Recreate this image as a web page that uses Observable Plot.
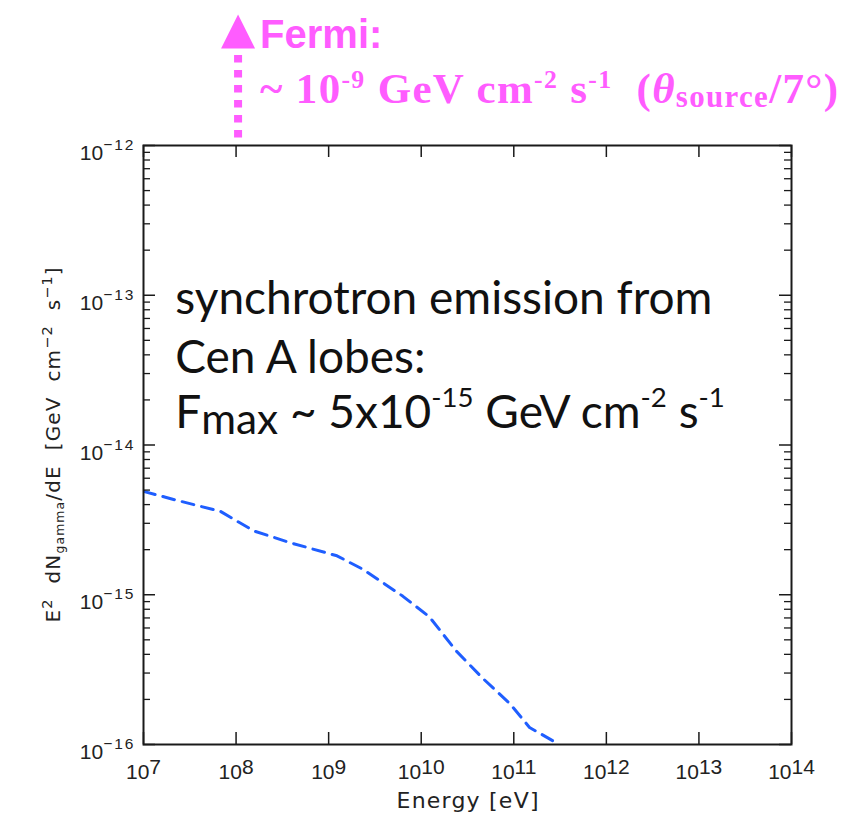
<!DOCTYPE html>
<html>
<head>
<meta charset="utf-8">
<script src="https://cdn.jsdelivr.net/npm/d3@7"></script>
<script src="https://cdn.jsdelivr.net/npm/@observablehq/plot@0.6"></script>
<style>
  body { margin: 0; background: #fff; }
  svg text { white-space: pre; }
</style>
</head>
<body>
<div id="chart"></div>
<script>
// ---- data ----
const energy = [1e7, 2.2e7, 6.8e7, 1.55e8, 3.8e8, 1.23e9, 2.34e9, 6.3e9, 1.23e10, 2.4e10, 4.7e10, 9.1e10, 1.48e11, 3.1e11];
const flux   = [4.9e-15, 4.3e-15, 3.6e-15, 2.67e-15, 2.23e-15, 1.82e-15, 1.48e-15, 9.8e-16, 7.1e-16, 4.2e-16, 2.74e-16, 1.87e-16, 1.3e-16, 1.0e-16];

const xMajorTicks = [1e7, 1e8, 1e9, 1e10, 1e11, 1e12, 1e13, 1e14];
const xTickLabels = ["10^{7}", "10^{8}", "10^{9}", "10^{10}", "10^{11}", "10^{12}", "10^{13}", "10^{14}"];
const yMajorTicks = [1e-16, 1e-15, 1e-14, 1e-13, 1e-12];
const yTickLabels = ["10^{\u221216}", "10^{\u221215}", "10^{\u221214}", "10^{\u221213}", "10^{\u221212}"];
const yMinorTicks = [-16, -15, -14, -13].flatMap(e => [2, 3, 4, 5, 6, 7, 8, 9].map(k => k * Math.pow(10, e)));

const xTitle = "Energy [eV]";
const yTitle = "E^{2}  dN_{gamma}/dE  [GeV  cm^{\u22122}  s^{\u22121}]";

const fermiEnergy = [1e8];
const fermiLine1 = "Fermi:";
const fermiLine2 = "~ 10^{-9} GeV cm^{-2} s^{-1}  (*{θ}_{source}/7°)";

const noteEnergy = 2.2e7;
const noteLines = ["synchrotron emission from", "Cen A lobes:", "F_{max} ~ 5x10^{-15} GeV cm^{-2} s^{-1}"];
const noteFlux  = [7.47e-14, 3.02e-14, 1.30e-14];

const data = energy.map((e, i) => ({energy: e, flux: flux[i]}));

// ---- layout ----
const W = 863, H = 814;
const mTop = 145, mBottom = 70, mLeft = 143, mRight = 72;
const fw = W - mLeft - mRight, fh = H - mTop - mBottom;
const magenta = "#ff5cff";
const blue = "#1f5eff";
const axisColor = "#1a1a1a";

// custom arrowhead symbol (tip up, anchor at base)
const arrowHead = {
  draw(ctx, size) {
    const r = Math.sqrt(size / Math.PI);
    ctx.moveTo(0, -2 * r);
    ctx.lineTo(r, 0);
    ctx.lineTo(-r, 0);
    ctx.closePath();
  }
};

const plot = Plot.plot({
  width: W, height: H,
  marginTop: mTop, marginBottom: mBottom, marginLeft: mLeft, marginRight: mRight,
  x: {type: "log", domain: [1e7, 1e14], axis: null},
  y: {type: "log", domain: [1e-16, 1e-12], axis: null},
  style: {background: "#fff"},
  marks: [
    Plot.line(data, {x: "energy", y: "flux", stroke: blue, strokeWidth: 3, strokeDasharray: "12,8", clip: true}),
    Plot.frame({stroke: axisColor, strokeWidth: 2}),
    // inward ticks, all four sides
    Plot.ruleX(xMajorTicks, {x: d => d, stroke: axisColor, strokeWidth: 1.5, insetTop: fh - 12}),
    Plot.ruleX(xMajorTicks, {x: d => d, stroke: axisColor, strokeWidth: 1.5, insetBottom: fh - 12}),
    Plot.ruleY(yMajorTicks, {y: d => d, stroke: axisColor, strokeWidth: 1.5, insetRight: fw - 12}),
    Plot.ruleY(yMajorTicks, {y: d => d, stroke: axisColor, strokeWidth: 1.5, insetLeft: fw - 12}),
    Plot.ruleY(yMinorTicks, {y: d => d, stroke: axisColor, strokeWidth: 1.3, insetRight: fw - 7}),
    Plot.ruleY(yMinorTicks, {y: d => d, stroke: axisColor, strokeWidth: 1.3, insetLeft: fw - 7}),
    // tick labels
    Plot.text(xMajorTicks, {x: d => d, text: (d, i) => xTickLabels[i], frameAnchor: "bottom", textAnchor: "middle",
      lineAnchor: "bottom", dy: 34, fontSize: 21, fontFamily: "Liberation Sans", fill: "#222", ariaDescription: "xlab"}),
    Plot.text(yMajorTicks, {y: d => d, text: (d, i) => yTickLabels[i], frameAnchor: "left", textAnchor: "end",
      lineAnchor: "middle", dx: -8, dy: 8, fontSize: 21, fontFamily: "Liberation Sans", fill: "#222", ariaDescription: "ylab"}),
    // axis titles
    Plot.text([xTitle], {text: d => d, frameAnchor: "bottom", textAnchor: "middle", lineAnchor: "bottom", dy: 63,
      fontSize: 22, fontFamily: "DejaVu Sans", fill: "#222", ariaDescription: "xtitle"}),
    Plot.text([yTitle], {text: d => d, frameAnchor: "left", textAnchor: "middle", lineAnchor: "middle", rotate: -90, dx: -90,
      fontSize: 20, fontFamily: "DejaVu Sans", fill: "#222", ariaDescription: "ytitle"}),
    // annotation inside the plot
    Plot.text(noteLines, {x: () => noteEnergy, y: (d, i) => noteFlux[i], text: d => d, textAnchor: "start",
      lineAnchor: "bottom", fontSize: 46, fontFamily: "Lato", fill: "#111", ariaDescription: "note"}),
    // Fermi arrow above the frame
    Plot.ruleX(fermiEnergy, {x: d => d, dx: 2, stroke: magenta, strokeWidth: 8, strokeDasharray: "7.5,7.5",
      insetTop: -90, insetBottom: fh}),
    Plot.dot(fermiEnergy, {x: d => d, frameAnchor: "top", dx: 2, dy: -97, r: 17, symbol: arrowHead, fill: magenta, stroke: "none"}),
    Plot.text([fermiLine1], {x: () => fermiEnergy[0], text: d => d, frameAnchor: "top", textAnchor: "start",
      lineAnchor: "bottom", dx: 24, dy: -98, fontSize: 40, fontWeight: "bold", fontFamily: "Liberation Sans", fill: magenta}),
    Plot.text([fermiLine2], {x: () => fermiEnergy[0], text: d => d, frameAnchor: "top", textAnchor: "start",
      lineAnchor: "bottom", dx: 24, dy: -43, fontSize: 43, fontWeight: "bold", fontFamily: "Liberation Serif", fill: magenta, ariaDescription: "fermi"})
  ]
});

document.getElementById("chart").appendChild(plot);

// rich text: ^{sup}, _{sub}, *{italic}; [scale, baseline shift px (negative = up), letter-spacing]; len = textLength
const richStyles = {
  xlab:   {sup: [1.0, -5],   sub: [1, 0]},
  ylab:   {sup: [0.74, -10, 2], sub: [1, 0]},
  xtitle: {sup: [1, 0], sub: [1, 0], len: 142},
  ytitle: {sup: [0.72, -8],  sub: [0.62, 4], len: 355},
  note:   {sup: [0.6, -21],  sub: [0.92, 6]},
  fermi:  {sup: [0.6, -15],  sub: [0.72, 4], len: 578}
};
const svgNS = "http://www.w3.org/2000/svg";
plot.querySelectorAll("g[aria-description]").forEach(g => {
  const cfg = richStyles[g.getAttribute("aria-description")];
  if (!cfg) return;
  g.querySelectorAll("text").forEach(t => {
    const src = t.textContent;
    const fs = parseFloat(getComputedStyle(t).fontSize);
    t.textContent = "";
    const re = /([\^_*])\{([^}]*)\}|([^\^_*]+)/g;
    let m, cur = 0;
    while ((m = re.exec(src))) {
      const ts = document.createElementNS(svgNS, "tspan");
      let target = 0, scale = 1, spacing = 0;
      if (m[1] === "^") { [scale, target, spacing = 0] = cfg.sup; ts.textContent = m[2]; }
      else if (m[1] === "_") { [scale, target, spacing = 0] = cfg.sub; ts.textContent = m[2]; }
      else if (m[1] === "*") { ts.textContent = m[2]; ts.setAttribute("font-style", "italic"); }
      else ts.textContent = m[3];
      if (target - cur !== 0) ts.setAttribute("dy", target - cur);
      cur = target;
      if (scale !== 1) ts.setAttribute("font-size", fs * scale);
      if (spacing) ts.setAttribute("letter-spacing", spacing);
      t.appendChild(ts);
    }
    if (cfg.len) {
      t.setAttribute("textLength", cfg.len);
      t.setAttribute("lengthAdjust", "spacing");
    }
  });
});
</script>
</body>
</html>
